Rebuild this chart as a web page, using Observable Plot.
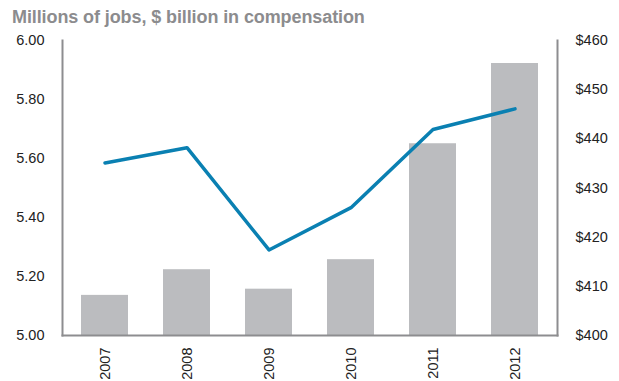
<!DOCTYPE html>
<html><head><meta charset="utf-8">
<script src="https://cdn.jsdelivr.net/npm/d3@7"></script>
<script src="https://cdn.jsdelivr.net/npm/@observablehq/plot@0.6"></script>
<style>
body{margin:0;background:#fff;}
#title{height:30px;box-sizing:border-box;padding:8px 0 0 12px;font:bold 18px "Liberation Sans",Arial,sans-serif;color:#8c8c8e;line-height:18px;white-space:nowrap;letter-spacing:-0.1px;}
</style></head>
<body>
<div id="title">Millions of jobs, $ billion in compensation</div>
<div id="chart"></div>
<script>
const years = ["2007","2008","2009","2010","2011","2012"];
const jobs = [5.136, 5.223, 5.157, 5.257, 5.650, 5.922];
const compensation = [435.1, 438.2, 417.4, 426.0, 441.9, 446.1];
const leftTicks = [5.0, 5.2, 5.4, 5.6, 5.8, 6.0];
const rightTicks = [400, 410, 420, 430, 440, 450, 460];

const toLeft = v => 5 + (v - 400) / 60;
const data = years.map((y, i) => ({year: y, jobs: jobs[i], comp: compensation[i]}));
const axisColor = "#8d8d90";

const chart = Plot.plot({
  width: 619, height: 351,
  marginLeft: 62, marginRight: 62, marginTop: 10, marginBottom: 46,
  style: {fontFamily: '"Liberation Sans",Arial,sans-serif', fontSize: "14.5px", color: "#222"},
  x: {domain: years, paddingInner: 0.43, paddingOuter: 0.215, label: null},
  y: {domain: [5, 6], label: null},
  marks: [
    Plot.barY(data, {x: "year", y1: 5, y2: "jobs", fill: "#bbbcbf"}),
    Plot.lineY(data, {x: "year", y: d => toLeft(d.comp), stroke: "#0a80b2", strokeWidth: 3.5}),
    Plot.frame({anchor: "left", stroke: axisColor, strokeWidth: 2}),
    Plot.frame({anchor: "right", stroke: axisColor, strokeWidth: 2}),
    Plot.frame({anchor: "bottom", stroke: axisColor, strokeWidth: 2}),
    Plot.axisY({anchor: "left", ticks: leftTicks, tickSize: 0, tickPadding: 18, tickFormat: d => d.toFixed(2), label: null}),
    Plot.axisY({anchor: "right", ticks: rightTicks.map(toLeft), tickSize: 0, tickPadding: 18, tickFormat: d => "$" + Math.round(400 + (d - 5) * 60), label: null}),
    Plot.axisX({tickRotate: -90, tickSize: 0, tickPadding: 12, label: null})
  ]
});
document.getElementById("chart").appendChild(chart);
</script>
</body></html>
